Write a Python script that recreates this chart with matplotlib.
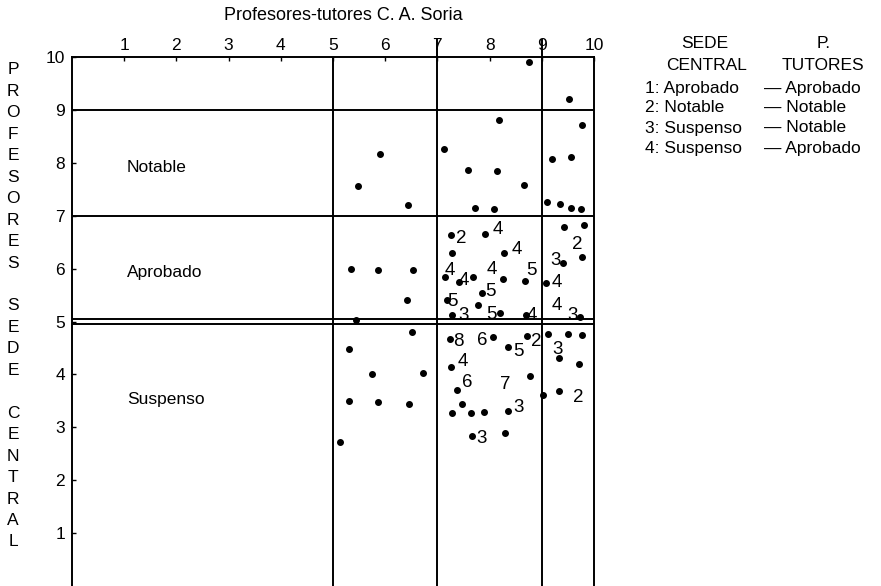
import matplotlib.pyplot as plt

plt.rcParams['font.family'] = ['Liberation Sans', 'DejaVu Sans']

# puntos: nota profesores-tutores (x), nota sede central (y)
dot_x = [8.76, 9.52,
         8.18, 9.77, 5.90, 5.48, 6.44, 7.13, 7.59, 8.14, 8.66, 7.72, 8.08,
         9.20, 9.56, 9.10, 9.35, 9.56, 9.75,
         5.35, 5.86, 6.53, 6.42, 5.44,
         7.26, 7.91, 8.28, 7.28, 7.15, 7.41, 7.68, 8.26, 8.68, 7.86, 7.18,
         7.28, 7.78, 8.20, 8.70,
         9.43, 9.81, 9.77, 9.41, 9.08, 9.73,
         6.51, 5.31, 5.75, 6.72, 5.31, 5.86, 6.46, 5.13,
         7.24, 8.07, 8.72, 8.35, 7.26, 7.37, 8.77, 7.47, 7.28, 7.64, 7.89,
         8.35, 7.66, 8.30,
         9.12, 9.50, 9.77, 9.33, 9.71, 9.33, 9.02]
dot_y = [9.90, 9.20,
         8.80, 8.72, 8.17, 7.56, 7.20, 8.26, 7.86, 7.85, 7.58, 7.15, 7.13,
         8.07, 8.11, 7.25, 7.22, 7.15, 7.13,
         5.99, 5.97, 5.97, 5.41, 5.02,
         6.64, 6.65, 6.29, 6.29, 5.84, 5.75, 5.84, 5.80, 5.77, 5.54, 5.41,
         5.12, 5.31, 5.16, 5.12,
         6.79, 6.82, 6.22, 6.10, 5.73, 5.08,
         4.80, 4.48, 4.01, 4.03, 3.50, 3.48, 3.44, 2.72,
         4.67, 4.71, 4.73, 4.52, 4.14, 3.71, 3.97, 3.44, 3.27, 3.27, 3.29,
         3.31, 2.84, 2.89,
         4.76, 4.76, 4.74, 4.31, 4.20, 3.69, 3.61]

# numero de casos junto a los puntos
num_x = [7.45, 8.16, 8.52, 7.24, 7.51, 8.05, 8.81, 8.01, 7.28, 7.51, 8.03, 8.81,
         9.67, 9.27, 9.29, 9.29, 9.58,
         7.40, 7.85, 8.90, 8.56, 7.49, 7.57, 8.30, 8.56, 7.84,
         9.31, 9.69]
num_y = [6.57, 6.73, 6.37, 5.97, 5.77, 5.99, 5.97, 5.56, 5.37, 5.12, 5.14, 5.12,
         6.45, 6.16, 5.73, 5.31, 5.12,
         4.63, 4.65, 4.63, 4.44, 4.25, 3.84, 3.80, 3.38, 2.78,
         4.48, 3.57]
num_txt = ['2', '4', '4', '4', '4', '4', '5', '5', '5', '3', '5', '4',
           '2', '3', '4', '4', '3',
           '8', '6', '2', '5', '4', '6', '7', '3', '3',
           '3', '2']

ticks = [1, 2, 3, 4, 5, 6, 7, 8, 9, 10]
zonas = ['Notable', 'Aprobado', 'Suspenso']
zona_y = [7.92, 5.92, 3.52]

ley_sede = ['1: Aprobado', '2: Notable', '3: Suspenso', '4: Suspenso']
ley_tut = ['— Aprobado', '— Notable', '— Notable', '— Aprobado']

W, H = 881, 586
fig = plt.figure(figsize=(W / 100, H / 100), dpi=100)
ax = fig.add_axes([72 / W, 0, 522 / W, 529 / H])
ax.set_xlim(0, 10)
ax.set_ylim(0, 10)

ax.xaxis.tick_top()
ax.set_xticks(ticks)
ax.set_yticks(ticks)
ax.tick_params(direction='in', length=3, width=1, labelsize=12.5)
ax.tick_params(axis='x', pad=3)
ax.tick_params(axis='y', pad=5)
for s in ['left', 'top', 'right']:
    ax.spines[s].set_linewidth(1.4)
ax.spines['bottom'].set_visible(False)

# lineas de corte
for y in [9, 7, 5.04, 4.95]:
    ax.axhline(y, color='black', lw=1.4)
ax.axvline(5, color='black', lw=1.4)
for x in [7, 9]:
    ax.plot([x, x], [0, 10.32], color='black', lw=1.4, clip_on=False)

ax.scatter(dot_x, dot_y, s=16, color='black', zorder=3)
for x, y, t in zip(num_x, num_y, num_txt):
    ax.text(x, y, t, ha='center', va='center', fontsize=13.5)

for z, y in zip(zonas, zona_y):
    ax.text(1.05, y, z, va='center', fontsize=12.5)

fig.text(343 / W, 1 - 15 / H, 'Profesores-tutores C. A. Soria',
         ha='center', va='center', fontsize=13)

# rotulo vertical
for i, c in enumerate('PROFESORES SEDE CENTRAL'):
    fig.text(13 / W, 1 - (70 + i * 21.45) / H, c, ha='center', va='center',
             fontsize=12.5)

# leyenda
fig.text(705 / W, 1 - 44 / H, 'SEDE', ha='center', va='center', fontsize=12.5)
fig.text(707 / W, 1 - 65 / H, 'CENTRAL', ha='center', va='center', fontsize=12.5)
fig.text(824 / W, 1 - 44 / H, 'P.', ha='center', va='center', fontsize=12.5)
fig.text(823 / W, 1 - 65 / H, 'TUTORES', ha='center', va='center', fontsize=12.5)
for i, (a, b) in enumerate(zip(ley_sede, ley_tut)):
    yy = 1 - (88 + i * 20) / H
    fig.text(645 / W, yy, a, va='center', fontsize=12.5)
    fig.text(764 / W, yy, b, va='center', fontsize=12.5)

fig.savefig('out.png', dpi=100)
